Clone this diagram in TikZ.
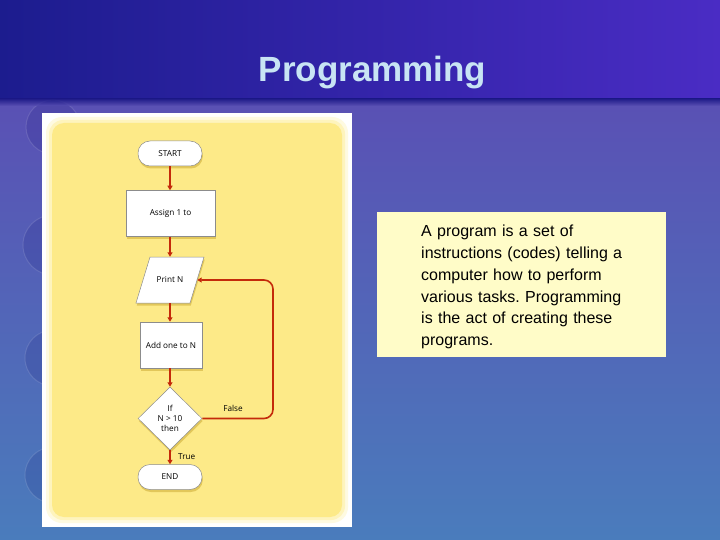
\documentclass[tikz,border=0pt]{standalone}
\usepackage{fontspec}
\setmainfont{Liberation Sans}
\newfontfamily\chartfont{Open Sans}
\usetikzlibrary{shapes.geometric,shadows,arrows.meta}
\definecolor{barL}{HTML}{1C1C8E}
\definecolor{barR}{HTML}{4A2CC4}
\definecolor{bgTop}{HTML}{5A50B4}
\definecolor{bgBot}{HTML}{4A7CBC}
\definecolor{titleC}{HTML}{C8E4F4}
\definecolor{panelY}{HTML}{FDEA88}
\definecolor{shadowY}{HTML}{E2C75A}
\definecolor{arrowR}{HTML}{C42A0A}
\definecolor{noteY}{HTML}{FFFCC8}
\tikzset{
  chartshadow/.style={drop shadow={fill=shadowY, opacity=1, shadow xshift=0.8pt, shadow yshift=-2.5pt}},
  chartfnt/.style={font=\chartfont\fontsize{8.2}{10}\selectfont},
  shapebox/.style={draw=black!45, line width=0.5pt, fill=white, chartfnt,
    align=center, inner sep=0pt, chartshadow},
  termbox/.style={shapebox, rounded corners=12pt, minimum width=64pt, minimum height=25pt},
  procbox/.style={shapebox, rectangle, minimum height=46pt},
  iotext/.style={chartfnt, inner sep=0pt, minimum width=54pt, minimum height=46pt},
  decbox/.style={shapebox, diamond, minimum width=64pt, minimum height=63pt},
  flow/.style={draw=arrowR, line width=1.6pt, -{Triangle[length=4.5pt,width=5pt]}},
  lbl/.style={chartfnt, inner sep=0pt}
}
\begin{document}
\begin{tikzpicture}[x=1pt,y=-1pt]
\useasboundingbox (0,0) rectangle (720,540);
% background
\shade[top color=bgTop, bottom color=bgBot] (0,96) rectangle (720,540);
% faint globes
\foreach \gy/\gr in {127/27,245/30,358/28,475/28}{
  \fill[black!60!blue, opacity=0.12] (53,\gy) circle (\gr);
  \draw[white, opacity=0.12, line width=1pt] (53,\gy) circle (\gr);
}
% title bar shadow + bar
\shade[top color=black!55!blue, bottom color=bgTop, opacity=0.8] (0,97) rectangle (720,106);
\shade[left color=barL, right color=barR] (0,0) rectangle (720,98);
\node[font=\bfseries\fontsize{35}{40}\selectfont, text=titleC, anchor=base, inner sep=0pt] (title) at (372.5,82) {Programming};
% picture frame
\fill[white] (42,113) rectangle (352,527);
\fill[panelY!25, rounded corners=16pt] (46,117) rectangle (348,523);
\fill[panelY!55, rounded corners=14pt] (49,120) rectangle (345,520);
\fill[panelY, rounded corners=12pt] (52,123) rectangle (342,517);
% flowchart
\node[termbox] (start) at (170,153.5) {START};
\node[procbox, minimum width=89pt] (assign) at (170.5,213.5) {Assign 1 to};
\filldraw[draw=black!45, line width=0.5pt, fill=white, chartshadow]
  (150,257) -- (204,257) -- (190,303) -- (136,303) -- cycle;
\node[iotext] (print) at (170,280) {Print N};
\node[procbox, minimum width=62pt] (add) at (171,345) {Add one to N};
\node[decbox] (dec) at (170,418.5) {If\\N \textgreater\ 10\\then};
\node[termbox] (end) at (170,477) {END};
\coordinate (c1) at (273,418.5);
\coordinate (c2) at (273,280);
\draw[flow] (start) -- (start |- assign.north);
\draw[flow] (assign.south -| print) -- (print.north);
\draw[flow] (print.south) -- (print.south |- add.north);
\draw[flow] (add.south -| dec) -- (dec.north);
\draw[flow] (dec) -- (end);
\draw[flow, rounded corners=9pt] (dec.east) -- (c1) -- (c2) -- (print.east);
\node[lbl, anchor=west] (truel) at (178,457) {True};
\node[lbl] (falsel) at (233,408) {False};
% note box
\node[fill=noteY, minimum width=289pt, minimum height=145pt, inner sep=0pt] (note) at (521.5,284.5) {};
\node[anchor=north west, inner sep=0pt, text width=240pt, align=left,
  font=\fontsize{16}{21.8}\selectfont\frenchspacing] (notetext) at (421,225)
  {A program is a set of\\instructions (codes) telling a\\computer how to perform\\various tasks. Programming\\is the act of creating these\\programs.};
\end{tikzpicture}
\end{document}
